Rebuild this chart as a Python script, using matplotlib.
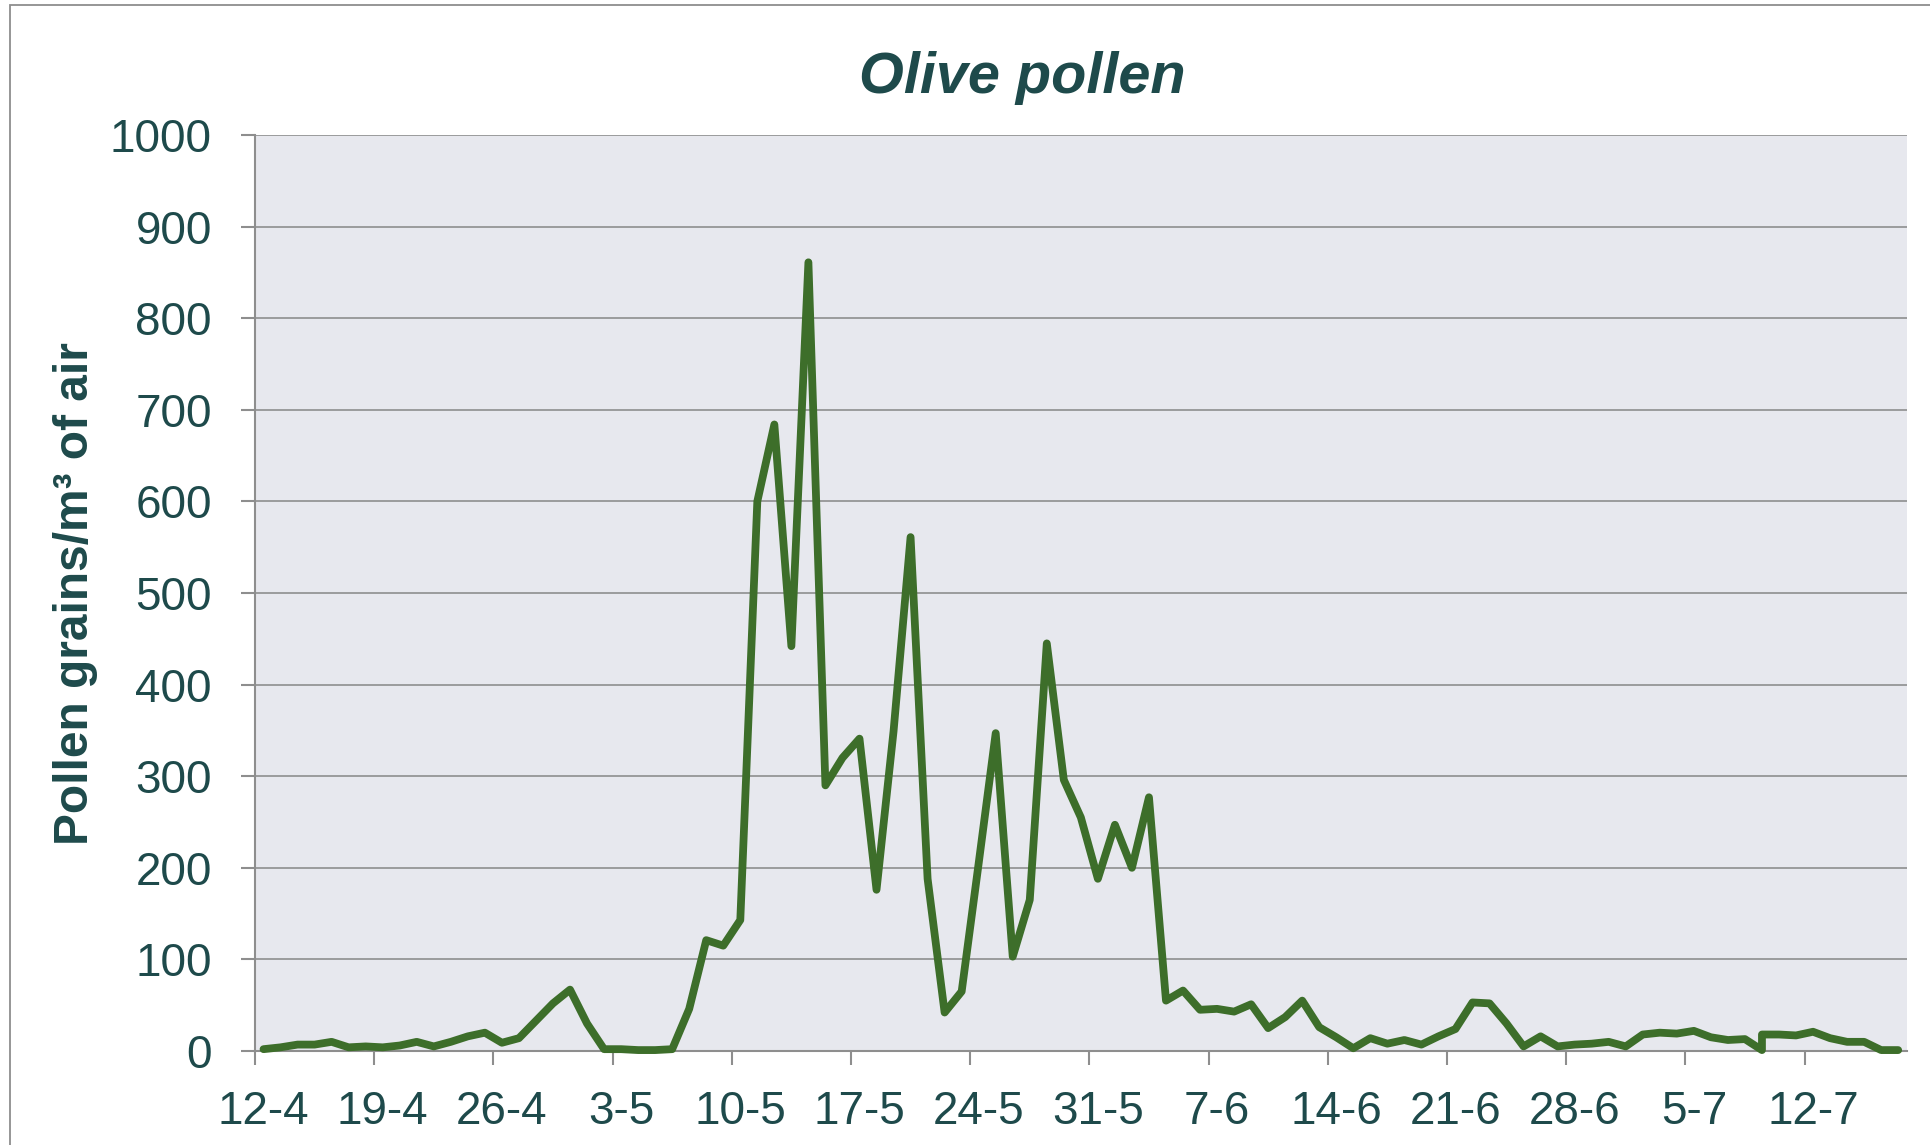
import numpy as np
import pandas as pd
import matplotlib
matplotlib.use('Agg')
import matplotlib.pyplot as plt
from matplotlib.patches import Rectangle

plt.rcParams['font.family'] = ['Liberation Sans', 'DejaVu Sans']

# daily olive pollen counts, 12 April - 17 July (one date appears twice)
start = pd.Timestamp('2019-04-12')
dates = list(pd.date_range(start, periods=97, freq='D'))
dates.insert(88, dates[88])
pollen = [2, 4, 7, 7, 10, 4, 5, 4, 6, 10,
          5, 10, 16, 20, 9, 14, 33, 52, 67, 30,
          2, 2, 1, 1, 2, 46, 121, 115, 143, 600,
          684, 442, 861, 290, 320, 341, 176, 349, 561, 188,
          42, 65, 205, 347, 103, 165, 445, 296, 255, 188,
          247, 200, 277, 55, 66, 45, 46, 43, 51, 25,
          37, 55, 26, 15, 3, 14, 8, 12, 7, 16,
          24, 53, 52, 30, 5, 16, 5, 7, 8, 10,
          5, 18, 20, 19, 22, 15, 12, 13, 1, 18,
          18, 17, 21, 14, 10, 10, 1, 1]
tick_labels = ['12-4', '19-4', '26-4', '3-5', '10-5', '17-5', '24-5',
               '31-5', '7-6', '14-6', '21-6', '28-6', '5-7', '12-7']

text_col = '#1E4A4B'
grid_col = '#8E8E8E'

days = np.array([(d - start).days for d in dates])

fig = plt.figure(figsize=(19.31, 11.45), dpi=100)
ax = fig.add_axes([255 / 1931, 1 - 1051 / 1145, (1906.7 - 255) / 1931, (1051 - 135) / 1145])
ax.set_facecolor('#E7E8EE')

ax.plot(days, pollen, color='#3D6E2A', lw=5.6, solid_joinstyle='round',
        solid_capstyle='round', clip_on=False, zorder=3)

ax.set_xlim(-0.5, 96.5)
ax.set_ylim(0, 1000)
ax.set_yticks(np.arange(0, 1001, 100))
ax.grid(axis='y', color=grid_col, lw=1.2)
ax.set_axisbelow(True)

week_pos = np.arange(len(tick_labels)) * 7
ax.set_xticks(week_pos)
ax.set_xticklabels(tick_labels)
ax.set_xticks(week_pos - 0.5, minor=True)
ax.tick_params(axis='x', which='major', length=0, pad=28, labelsize=33, labelcolor=text_col)
ax.tick_params(axis='x', which='minor', length=10, width=1.5, color=grid_col)
ax.tick_params(axis='y', length=10, width=1.5, color=grid_col, pad=21,
               labelsize=33, labelcolor=text_col)

for s in ['top', 'right']:
    ax.spines[s].set_visible(False)
for s in ['left', 'bottom']:
    ax.spines[s].set_color(grid_col)
    ax.spines[s].set_linewidth(1.5)

fig.text(0.5295, 1 - 93 / 1145, 'Olive pollen', ha='center', va='baseline',
         fontsize=41.5, fontweight='bold', fontstyle='italic', color=text_col)
fig.text(76 / 1931, 1 - 594 / 1145, 'Pollen grains/m\u00b3 of air', rotation=90,
         ha='center', va='center', fontsize=34.5, fontweight='bold', color=text_col)

fig.patches.append(Rectangle((10 / 1931, -0.2), 1.2, 0.2 + 1 - 5 / 1145,
                             transform=fig.transFigure, fill=False,
                             edgecolor=grid_col, lw=1.3))

fig.savefig('out.png', dpi=100)
